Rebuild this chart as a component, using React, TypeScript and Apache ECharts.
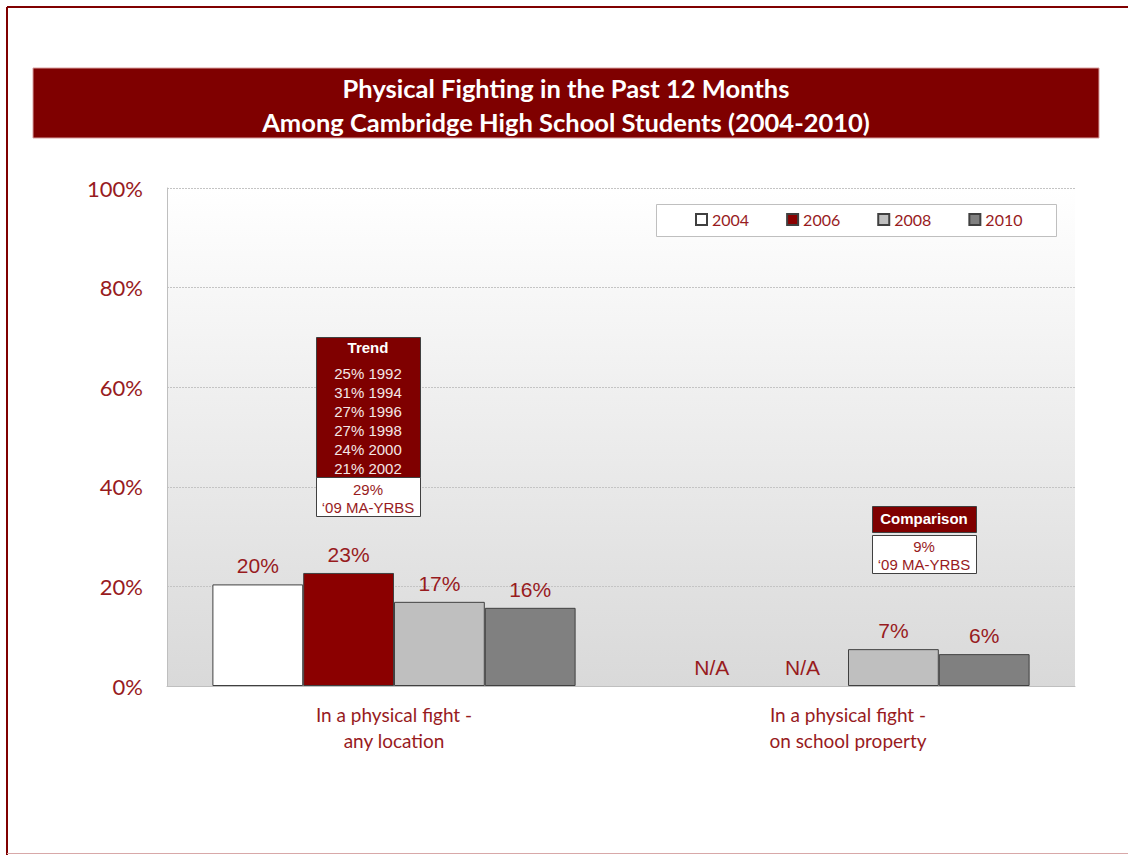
import React, { useEffect, useRef } from "react";
import * as echarts from "echarts";

const categories = ["In a physical fight -\nany location", "In a physical fight -\non school property"];
const years = ["2004", "2006", "2008", "2010"];
const values2004: (number | null)[] = [20.4, null];
const values2006: (number | null)[] = [22.7, null];
const values2008: (number | null)[] = [16.9, 7.4];
const values2010: (number | null)[] = [15.7, 6.4];
const yTicks = [0, 20, 40, 60, 80, 100];
const titleLines = ["Physical Fighting in the Past 12 Months", "Among Cambridge High School Students (2004-2010)"];
const trendTitle = "Trend";
const trendLines = ["25% 1992", "31% 1994", "27% 1996", "27% 1998", "24% 2000", "21% 2002"];
const trendCompare = ["29%", "\u201809 MA-YRBS"];
const comparisonTitle = "Comparison";
const comparisonLines = ["9%", "\u201809 MA-YRBS"];

const RED = "#981B1E";
const DARK = "#7F0000";
const barColors = ["#FFFFFF", "#8B0000", "#BFBFBF", "#808080"];
const allValues = [values2004, values2006, values2008, values2010];

function txt(x: number, y: number, text: string, fill: string, size: number, weight = "normal", family = "Liberation Sans") {
  return {
    type: "text",
    x,
    y,
    z: 20,
    style: { text, fill, fontSize: size, fontWeight: weight, fontFamily: family, textAlign: "center", textVerticalAlign: "middle" },
  };
}

export default function App() {
  const ref = useRef<HTMLDivElement>(null);
  useEffect(() => {
    const chart = echarts.init(ref.current!, null, { renderer: "svg" });
    const series = years.map((y, i) => ({
      name: y,
      type: "bar",
      barGap: "0%",
      barCategoryGap: "20%",
      itemStyle: { color: barColors[i], borderColor: "#404040", borderWidth: 1 },
      label: {
        show: true,
        position: "top",
        distance: 8,
        color: RED,
        fontSize: 21,
        fontFamily: "Liberation Sans",
        formatter: (p: any) => Math.round(p.value) + "%",
      },
      data: allValues[i].map((v) =>
        v == null
          ? { value: 0, label: { formatter: "N/A" }, itemStyle: { color: "transparent", borderWidth: 0 } }
          : v
      ),
    }));

    const graphic: any[] = [
      // frame
      { type: "line", z: 1, shape: { x1: 7, y1: 7, x2: 1128, y2: 7 }, style: { stroke: "#800000", lineWidth: 2 } },
      { type: "line", z: 1, shape: { x1: 7, y1: 7, x2: 7, y2: 855 }, style: { stroke: "#800000", lineWidth: 2 } },
      { type: "line", z: 1, shape: { x1: 7, y1: 853.5, x2: 1128, y2: 853.5 }, style: { stroke: "#D8A8A8", lineWidth: 1 } },
      // title band
      { type: "rect", z: 1, shape: { x: 33, y: 68, width: 1066, height: 70 }, style: { fill: DARK, stroke: "#D9A0A0", lineWidth: 1 } },
      txt(566, 88, titleLines[0], "#FFFFFF", 25.5, "bold", "Lato"),
      txt(566, 122, titleLines[1], "#FFFFFF", 25.5, "bold", "Lato"),
      // legend box
      { type: "rect", z: 1, shape: { x: 656.5, y: 204.5, width: 400, height: 32 }, style: { fill: "#FFFFFF", stroke: "#BFBFBF", lineWidth: 1 } },
      // trend box
      { type: "rect", z: 15, shape: { x: 316.5, y: 337.5, width: 104, height: 140 }, style: { fill: DARK, stroke: "#404040", lineWidth: 1 } },
      { type: "rect", z: 15, shape: { x: 316.5, y: 477.5, width: 104, height: 39 }, style: { fill: "#FFFFFF", stroke: "#404040", lineWidth: 1 } },
      txt(368, 347.5, trendTitle, "#FFFFFF", 15, "bold"),
      ...trendLines.map((t, i) => txt(368, 373.5 + i * 18.9, t, "#F4E6E6", 15)),
      txt(368, 489, trendCompare[0], RED, 15),
      txt(368, 507.5, trendCompare[1], RED, 15),
      // comparison box
      { type: "rect", z: 15, shape: { x: 872.5, y: 506.5, width: 104, height: 26 }, style: { fill: DARK, stroke: "#404040", lineWidth: 1 } },
      { type: "rect", z: 15, shape: { x: 872.5, y: 535.5, width: 104, height: 38 }, style: { fill: "#FFFFFF", stroke: "#404040", lineWidth: 1 } },
      txt(924, 518, comparisonTitle, "#FFFFFF", 15, "bold"),
      txt(924, 546, comparisonLines[0], RED, 15),
      txt(924, 564, comparisonLines[1], RED, 15),
    ];

    chart.setOption({
      animation: false,
      backgroundColor: "#FFFFFF",
      grid: {
        left: 167,
        top: 188,
        width: 908,
        height: 498,
        show: true,
        borderWidth: 0,
        backgroundColor: new echarts.graphic.LinearGradient(0, 0, 0, 1, [
          { offset: 0, color: "#FFFFFF" },
          { offset: 1, color: "#D9D9D9" },
        ]),
      },
      legend: {
        data: years,
        left: 695,
        top: 211.5,
        padding: 0,
        itemGap: 37,
        itemWidth: 11,
        itemHeight: 11,
        icon: "rect",
        z: 30,
        textStyle: { color: RED, fontSize: 16, fontFamily: "Lato" },
      },
      xAxis: {
        type: "category",
        data: categories,
        axisTick: { show: false },
        axisLine: { lineStyle: { color: "#BFBFBF" } },
        axisLabel: { color: RED, fontSize: 19, fontFamily: "Lato", lineHeight: 26, margin: 15 },
      },
      yAxis: {
        type: "value",
        min: yTicks[0],
        max: yTicks[yTicks.length - 1],
        interval: 20,
        axisLine: { show: true, lineStyle: { color: "#BFBFBF" } },
        axisTick: { show: false },
        axisLabel: { color: RED, fontSize: 22, fontFamily: "Lato", margin: 24, formatter: "{value}%" },
        splitLine: { lineStyle: { color: "#C4C4C4", type: [2, 1] } },
      },
      series,
      graphic,
    });
    return () => chart.dispose();
  }, []);
  return <div ref={ref} style={{ position: "absolute", left: 0, top: 0, width: 1128, height: 855 }} />;
}
